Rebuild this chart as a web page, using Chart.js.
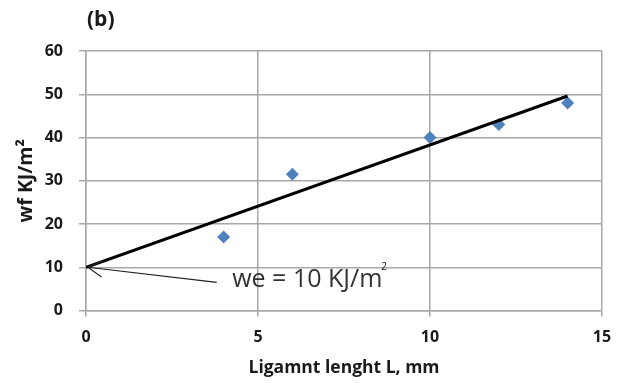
<!DOCTYPE html>
<html>
<head>
<meta charset="utf-8">
<script src="https://cdn.jsdelivr.net/npm/chart.js@4.4.1/dist/chart.umd.min.js"></script>
<style>
  html, body { margin: 0; padding: 0; background: #fff; }
  #wrap { width: 625px; height: 383px; }
</style>
</head>
<body>
<div id="wrap"><canvas id="chart"></canvas></div>
<script>
// measured points
const ligamentL = [4, 6, 10, 12, 14];
const workWf = [17, 31.5, 40, 43, 48];

// fitted line, intercept at we = 10
const fitL = [0, 14];
const fitWf = [10, 49.6];

const xTicks = [0, 5, 10, 15];
const yTicks = [0, 10, 20, 30, 40, 50, 60];

// annotation anchors (data units)
const arrowTip = [0.05, 10];
const arrowTail = [3.8, 6.5];
const noteAt = [4.25, 5.5];
const noteText = "we = 10 KJ/m";

const annotate = {
  id: "annotate",
  afterDatasetsDraw(chart) {
    const { ctx, scales: { x, y } } = chart;
    const tx = x.getPixelForValue(arrowTip[0]), ty = y.getPixelForValue(arrowTip[1]);
    const sx = x.getPixelForValue(arrowTail[0]), sy = y.getPixelForValue(arrowTail[1]);
    ctx.save();
    ctx.strokeStyle = "#222";
    ctx.lineWidth = 1.2;
    ctx.beginPath();
    ctx.moveTo(sx, sy);
    ctx.lineTo(tx, ty);
    // open arrow head
    const a = Math.atan2(sy - ty, sx - tx);
    const len = 17;
    ctx.moveTo(tx + len * Math.cos(a - 0.5), ty + len * Math.sin(a - 0.5));
    ctx.lineTo(tx, ty);
    ctx.lineTo(tx + len * Math.cos(a + 0.5), ty + len * Math.sin(a + 0.5));
    ctx.stroke();

    const nx = x.getPixelForValue(noteAt[0]), ny = y.getPixelForValue(noteAt[1]);
    ctx.fillStyle = "#333";
    ctx.font = "25px 'Open Sans'";
    ctx.textAlign = "left";
    ctx.textBaseline = "alphabetic";
    ctx.fillText(noteText, nx, ny);
    const w = ctx.measureText(noteText).width;
    ctx.font = "10px 'Open Sans'";
    ctx.fillStyle = "#111";
    ctx.fillText("2", nx + w - 1, ny - 17);
    ctx.restore();
  },
  afterDraw(chart) {
    const { ctx } = chart;
    ctx.save();
    ctx.fillStyle = "#1a1a1a";
    ctx.font = "bold 21px 'Open Sans'";
    ctx.textAlign = "left";
    ctx.textBaseline = "middle";
    ctx.fillText("(b)", 87, 20);
    ctx.restore();
  }
};

new Chart(document.getElementById("chart"), {
  type: "scatter",
  data: {
    datasets: [
      {
        label: "fit",
        data: fitL.map((v, i) => ({ x: v, y: fitWf[i] })),
        showLine: true,
        borderColor: "#000",
        borderWidth: 3,
        pointRadius: 0,
        order: 0
      },
      {
        label: "wf",
        data: ligamentL.map((v, i) => ({ x: v, y: workWf[i] })),
        pointStyle: "rectRot",
        pointRadius: 6.5,
        backgroundColor: "#4f81bd",
        borderColor: "#4f81bd",
        borderWidth: 0,
        order: 1
      }
    ]
  },
  options: {
    responsive: true,
    maintainAspectRatio: false,
    animation: false,
    layout: { padding: { left: 0, top: 51, right: 23, bottom: 0 } },
    plugins: {
      legend: { display: false },
      tooltip: { enabled: false }
    },
    scales: {
      x: {
        type: "linear",
        min: 0,
        max: 15,
        afterBuildTicks: (s) => { s.ticks = xTicks.map(v => ({ value: v })); },
        afterFit: (s) => { s.height = 72.5; },
        grid: { color: "#a8a8a8", lineWidth: 1.5, tickLength: 6, drawTicks: true },
        border: { color: "#a8a8a8", width: 1.5 },
        ticks: { color: "#1a1a1a", font: { family: "Open Sans", size: 16, weight: "bold" }, padding: 11 },
        title: {
          display: true,
          text: "Ligamnt lenght L, mm",
          color: "#1a1a1a",
          font: { family: "Open Sans", size: 17.5, weight: "bold" },
          padding: { top: 0, bottom: 4 }
        }
      },
      y: {
        type: "linear",
        min: 0,
        max: 60,
        afterBuildTicks: (s) => { s.ticks = yTicks.map(v => ({ value: v })); },
        afterFit: (s) => { s.width = 86; },
        grid: { color: "#a8a8a8", lineWidth: 1.5, tickLength: 7, drawTicks: true },
        border: { color: "#a8a8a8", width: 1.5 },
        ticks: { color: "#1a1a1a", font: { family: "Open Sans", size: 16, weight: "bold" }, padding: 16 },
        title: {
          display: true,
          text: "wf KJ/m²",
          color: "#1a1a1a",
          font: { family: "Open Sans", size: 19.5, weight: "bold" },
          padding: { top: 15, bottom: 0 }
        }
      }
    }
  },
  plugins: [annotate]
});
</script>
</body>
</html>
